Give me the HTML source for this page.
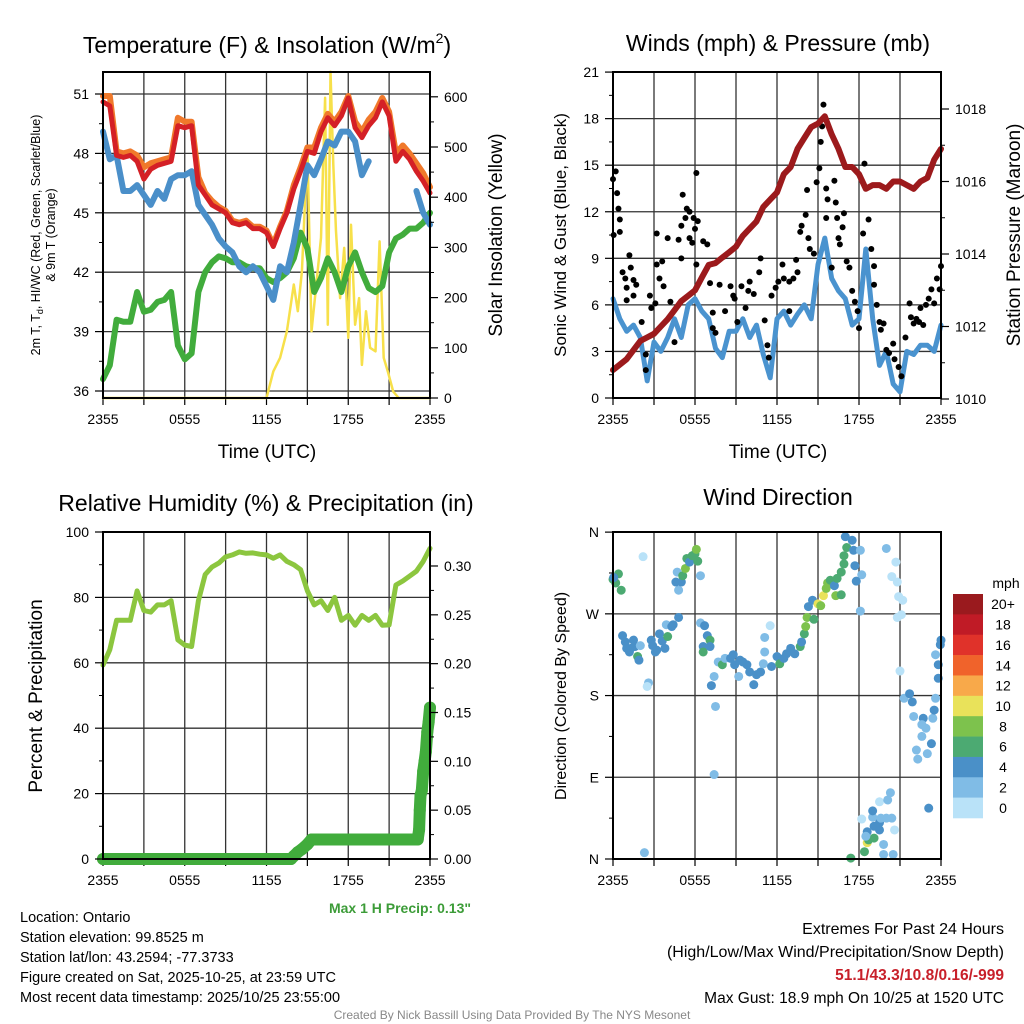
<!DOCTYPE html>
<html><head><meta charset="utf-8"><title>NYS Mesonet Ontario</title>
<style>
html,body{margin:0;padding:0;background:#fff;}
svg{display:block;font-family:"Liberation Sans",Arial,sans-serif;}
</style></head>
<body>
<svg id="chart" width="1024" height="1024" viewBox="0 0 1024 1024" xmlns="http://www.w3.org/2000/svg">
<rect x="0" y="0" width="1024" height="1024" fill="#fff"/>
<!-- titles -->
<text x="267" y="53" font-size="23" text-anchor="middle">Temperature (F) &amp; Insolation (W/m<tspan font-size="14" dy="-10">2</tspan><tspan dy="10">)</tspan></text>
<text x="778" y="51" font-size="23" text-anchor="middle">Winds (mph) &amp; Pressure (mb)</text>
<text x="266" y="511" font-size="23" text-anchor="middle">Relative Humidity (%) &amp; Precipitation (in)</text>
<text x="778" y="505" font-size="23" text-anchor="middle">Wind Direction</text>
<!-- axis titles -->
<text transform="translate(40,235) rotate(-90)" font-size="12.5" text-anchor="middle">2m T, T<tspan font-size="9" dy="3">d</tspan><tspan dy="-3">, HI/WC (Red, Green, Scarlet/Blue)</tspan></text>
<text transform="translate(55,235) rotate(-90)" font-size="12.5" text-anchor="middle">&amp; 9m T (Orange)</text>
<text transform="translate(502,235) rotate(-90)" font-size="19" text-anchor="middle">Solar Insolation (Yellow)</text>
<text x="267" y="458" font-size="19" text-anchor="middle">Time (UTC)</text>
<text transform="translate(566,235) rotate(-90)" font-size="17" text-anchor="middle">Sonic Wind &amp; Gust (Blue, Black)</text>
<text transform="translate(1020,235) rotate(-90)" font-size="19" text-anchor="middle">Station Pressure (Maroon)</text>
<text x="778" y="458" font-size="19" text-anchor="middle">Time (UTC)</text>
<text transform="translate(42,696) rotate(-90)" font-size="19" text-anchor="middle">Percent &amp; Precipitation</text>
<text transform="translate(566,696) rotate(-90)" font-size="16" text-anchor="middle">Direction (Colored By Speed)</text>
<text x="471" y="913" font-size="14" font-weight="bold" fill="#3c9c38" text-anchor="end">Max 1 H Precip: 0.13"</text>
<!-- info text -->
<g font-size="14.5" fill="#000">
<text x="20" y="922">Location: Ontario</text>
<text x="20" y="942">Station elevation: 99.8525 m</text>
<text x="20" y="962">Station lat/lon: 43.2594; -77.3733</text>
<text x="20" y="982">Figure created on Sat, 2025-10-25, at 23:59 UTC</text>
<text x="20" y="1002">Most recent data timestamp: 2025/10/25 23:55:00</text>
</g>
<g text-anchor="end" fill="#000">
<text x="1004" y="934" font-size="16">Extremes For Past 24 Hours</text>
<text x="1004" y="957" font-size="16">(High/Low/Max Wind/Precipitation/Snow Depth)</text>
<text x="1004" y="980" font-size="15.5" font-weight="bold" fill="#c8202a">51.1/43.3/10.8/0.16/-999</text>
<text x="1004" y="1003" font-size="15.5">Max Gust: 18.9 mph On 10/25 at 1520 UTC</text>
</g>
<text x="512" y="1019" font-size="12" fill="#888" text-anchor="middle">Created By Nick Bassill Using Data Provided By The NYS Mesonet</text>
<!-- colorbar label -->
<text x="1006" y="588" font-size="14" text-anchor="middle">mph</text>
</svg>
<script>
// ---------- data ----------
const halfHours = [0,0.5,1,1.5,2,2.5,3,3.5,4,4.5,5,5.5,6,6.5,7,7.5,8,8.5,9,9.5,10,10.5,11,11.5,12,12.5,13,13.5,14,14.5,15,15.5,16,16.5,17,17.5,18,18.5,19,19.5,20,20.5,21,21.5,22,22.5,23,23.5,24];
const tempRed = [50.6,50.4,47.9,47.8,47.9,47.6,46.7,47.2,47.4,47.5,47.6,49.4,49.3,49.4,46.4,45.9,45.4,45.2,45.0,44.5,44.4,44.5,44.2,44.2,44.0,43.3,44.2,45.0,46.2,47.1,48.1,48.0,49.1,49.8,49.4,49.9,50.8,49.3,48.8,49.4,49.8,50.6,49.9,47.6,48.1,47.7,47.1,46.6,46.0];
const temp9m = [50.9,50.9,48.1,48.0,48.1,47.9,47.3,47.5,47.6,47.7,47.8,49.8,49.6,49.6,46.8,46.0,45.6,45.3,45.1,44.6,44.5,44.6,44.3,44.3,44.1,43.4,44.3,45.1,46.4,47.3,48.3,48.3,49.3,50.0,49.6,50.1,50.9,49.6,49.1,49.7,50.1,50.8,50.1,48.0,48.4,48.0,47.5,47.0,46.3];
const windChill = [49.1,47.7,47.9,46.1,46.1,46.4,45.9,45.4,46.1,45.7,46.7,46.9,46.9,47.1,45.4,44.9,44.4,43.7,43.3,43.0,42.3,42.0,42.3,42.0,41.3,40.6,42.3,42.0,43.5,45.4,47.4,46.9,47.7,48.6,48.4,49.1,49.1,48.6,46.9,47.6,null,null,null,null,null,null,46.1,45.0,44.4];
const dewPoint = [36.6,37.3,39.6,39.5,39.5,41.0,40.0,40.1,40.5,40.6,41.0,38.3,37.6,37.9,41.0,42.0,42.5,42.8,42.7,42.5,42.5,42.3,42.2,42.2,41.7,41.5,41.7,42.0,42.7,44.0,43.2,41.0,41.7,42.7,42.0,41.0,42.3,43.0,42.0,41.2,41.0,41.3,43.0,43.7,43.9,44.2,44.2,44.5,45.0];
const solarHours = [0,12,12.5,13,13.5,14,14.3,14.6,15,15.3,15.6,16,16.3,16.5,16.7,16.9,17.1,17.4,17.7,18,18.2,18.5,18.8,19,19.3,19.6,20,20.3,20.6,20.9,21.3,21.7,24];
const solarVals = [0,0,53,80,133,226,173,252,498,133,212,319,598,146,650,465,332,199,299,120,345,146,199,66,173,100,93,312,80,53,13,0,0];
const pressure = [1010.8,1010.95,1011.1,1011.35,1011.6,1011.7,1011.8,1012.0,1012.2,1012.45,1012.7,1012.85,1013.0,1013.35,1013.7,1013.75,1013.9,1014.05,1014.2,1014.5,1014.7,1014.9,1015.3,1015.5,1015.7,1016.2,1016.4,1016.9,1017.2,1017.5,1017.6,1017.8,1017.3,1016.9,1016.4,1016.4,1016.2,1015.8,1015.9,1015.9,1015.8,1016.0,1016.0,1015.9,1015.8,1016.0,1016.1,1016.6,1016.9];
const windSpeed = [6.4,5.1,4.3,4.7,3.9,1.1,3.6,3.0,3.9,5.1,3.9,6.0,6.4,5.6,5.1,3.2,2.6,4.3,4.3,5.1,3.9,4.7,2.8,1.3,5.1,5.6,4.7,5.4,6.0,5.1,8.6,10.3,7.7,6.9,6.4,4.7,5.1,9.6,5.1,2.1,3.0,0.9,0.4,3.0,2.8,3.4,3.4,3.0,4.7];
const gustHours = [0,0.2,0.3,0.4,0.5,0.5,0.05,0.7,0.9,1.0,1.2,1.3,1.5,1.7,1.0,1.5,2.1,2.4,2.4,2.7,2.8,3.1,3.2,3.2,3.4,3.6,3.7,4.0,4.2,4.5,4.8,5.0,5.0,5.1,5.3,5.4,5.6,5.6,5.8,5.9,6.0,6.1,6.1,6.2,6.6,6.9,7.1,7.3,7.3,7.5,7.8,8.1,8.2,8.6,8.8,8.9,9.1,9.4,9.7,9.9,10.0,10.3,10.7,10.8,11.1,11.3,11.4,11.6,11.9,12.1,12.4,12.5,12.9,12.9,13.2,13.4,13.5,13.7,13.8,14.1,14.2,14.3,14.4,14.7,14.9,15.1,15.2,15.3,15.4,15.6,15.7,15.6,16.0,16.2,16.3,16.4,16.5,16.6,16.8,16.9,17.1,17.3,17.5,17.7,17.9,18.0,18.3,18.4,18.7,18.9,19.1,19.1,19.3,19.5,19.6,19.8,20.0,20.2,20.5,20.6,20.9,21.1,21.4,21.7,21.8,22.0,22.2,22.4,22.5,22.7,22.9,23.1,23.3,23.5,23.7,23.9,24.0];
const gustVals = [14.1,14.6,13.2,12.2,11.5,10.7,10.5,8.1,7.7,7.1,9.2,8.4,7.6,7.3,6.3,6.6,4.9,2.8,1.8,6.6,5.8,6.1,8.6,10.6,7.7,8.8,7.2,10.3,6.2,3.6,10.2,9.0,11.1,13.1,11.6,12.2,12.0,10.3,10.0,11.6,10.9,8.6,14.5,11.4,10.1,9.9,7.4,5.5,4.5,4.2,7.3,9.1,5.6,7.2,6.6,6.4,4.9,7.2,5.8,6.9,7.5,6.7,8.1,9.0,5.0,3.4,2.6,6.6,7.1,7.5,8.6,7.7,7.5,5.6,7.7,8.9,8.1,10.7,11.1,11.8,13.4,10.3,9.6,9.3,13.9,14.8,16.5,17.5,18.9,13.5,12.8,11.6,8.4,14.0,12.6,11.6,10.3,9.9,11.0,11.9,8.8,8.4,6.9,6.2,5.6,4.5,10.6,15.1,11.5,9.6,8.5,7.3,6.0,4.9,4.4,4.8,3.1,2.9,3.5,2.5,2.0,1.4,3.9,6.1,5.2,4.8,5.1,4.9,5.8,4.7,6.0,6.4,7.0,6.1,7.7,7.0,8.5];
const rhVals = [59.3,64,73,73,73,82,76,75.5,77.7,77.7,79,67,65.4,65,79,87,89.3,90.5,92.4,93,93.9,93.5,93.6,93.2,93,92,93,91,90,88.5,82,77.7,79,76,80,73,74.5,71.5,74.5,73,74.5,71.5,71.6,83.8,85,86.5,88,91,95];
const precipHours = [0,13.8,14.0,14.3,14.6,15.0,15.3,15.6,23.1,23.2,23.25,23.3,23.4,23.5,23.6,23.7,23.8,23.9,24];
const precipVals = [0,0,0.003,0.007,0.01,0.015,0.02,0.02,0.02,0.03,0.05,0.065,0.07,0.09,0.10,0.11,0.13,0.14,0.155];
const dirHours = [0,0.4,0.2,0.6,0.05,2.2,0.7,0.9,1.0,1.2,1.5,1.6,1.8,1.9,1.3,2.0,2.6,2.5,2.3,2.8,2.9,3.1,3.2,3.4,3.6,3.8,4.0,3.9,4.3,4.4,4.8,4.7,4.8,4.6,5.0,5.1,5.3,5.4,5.6,5.8,6.0,6.1,6.2,6.4,6.4,6.7,6.9,7.1,6.6,6.6,7.1,7.4,7.2,7.5,7.4,7.7,8.0,8.2,8.6,8.8,8.9,9.2,9.3,9.5,9.8,10.0,10.3,10.5,10.8,11.0,11.1,11.1,11.5,11.6,12.0,12.2,12.5,12.7,13.0,13.3,13.7,13.8,14.0,14.1,14.2,14.7,14.3,14.6,15.0,15.2,15.4,15.6,15.7,15.9,16.3,16.7,16.2,16.4,16.7,16.9,16.9,17.1,17.0,17.5,17.6,18.1,17.7,18.2,17.8,18.1,20.0,20.7,20.4,20.8,20.9,21.2,21.1,20.8,21.0,21.3,21.7,21.9,22.0,22.7,22.6,22.9,22.6,23.3,22.2,23.0,22.3,23.4,23.5,23.6,23.8,23.8,23.6,24.0,23.95,23.1,17.4,18.4,18.6,18.7,19.1,18.6,19.1,19.5,19.8,19.8,20.5,19.0,19.0,19.5,19.6,20.0,20.4,20.6,19.5,20.1,20.3,18.2,18.5];
const dirDeg = [308,314,304,296,310,333,246,239,232,228,241,234,223,219,232,235,194,190,7,241,235,228,230,248,240,232,245,258,256,258,266,316,296,305,305,312,320,331,327,334,336,341,328,312,260,257,246,241,234,228,234,201,191,168,93,217,214,221,221,225,214,201,219,217,214,206,192,203,206,215,228,244,257,212,223,215,221,226,232,226,234,239,248,256,266,264,278,285,281,279,290,298,304,307,290,291,301,309,316,325,334,343,355,351,340,340,323,313,306,273,342,327,311,305,289,285,269,266,207,177,182,173,157,155,148,144,135,127,120,116,110,155,164,177,199,214,225,241,236,56,1,8,18,21,23,30,36,32,16,5,5,46,53,40,45,45,45,32,63,65,73,44,25];
const dirSpeed = [7,7,7,7,5,1,5,5,5,5,5,5,7,5,5,3,3,1,3,5,5,5,5,5,5,5,7,3,5,5,5,3,3,5,5,7,9,7,5,7,7,9,7,3,3,5,5,7,5,7,5,3,5,3,3,3,7,3,5,5,5,3,5,5,5,5,5,5,5,3,3,3,1,5,5,7,5,5,5,5,7,5,7,9,9,7,5,5,11,9,11,9,9,7,9,7,5,7,7,7,7,7,5,5,5,3,5,3,5,3,3,1,1,1,1,1,1,1,1,3,5,5,3,5,3,3,3,5,3,3,3,3,5,3,5,5,3,5,5,5,7,7,11,7,7,5,5,5,3,3,3,3,5,5,3,3,3,1,1,3,3,1,3,5];
const speedBinLabels = ['0','2','4','6','8','10','12','14','16','18','20+'];
const speedBinColors = ['#b9e2f8','#80bce6','#4a90c8','#4caa72','#7dc24d','#e9e25a','#f8a94a','#f0632b','#e0322a','#c01b26','#9a1a1e'];
const timeTickLabels = ['2355','0555','1155','1755','2355'];
const tempTicks = [36,39,42,45,48,51];
const solarTicks = [0,100,200,300,400,500,600];
const windTicks = [0,3,6,9,12,15,18,21];
const pressureTicks = [1010,1012,1014,1016,1018];
const rhTicks = [0,20,40,60,80,100];
const precipTicks = [0,0.05,0.10,0.15,0.20,0.25,0.30];
const dirTicks = [0,90,180,270,360];
const dirTickLabels = ['N','E','S','W','N'];

// ---------- helpers ----------
const NS = 'http://www.w3.org/2000/svg';
const svg = document.getElementById('chart');
function el(tag, attrs, parent) {
  const e = document.createElementNS(NS, tag);
  for (const k in attrs) e.setAttribute(k, attrs[k]);
  (parent || svg).appendChild(e);
  return e;
}
const P1 = {x0:103, x1:430, y0:72, y1:398};
const P2 = {x0:613, x1:941, y0:72, y1:398};
const P3 = {x0:103, x1:430, y0:532, y1:859};
const P4 = {x0:613, x1:941, y0:532, y1:859};
function xs(p, h) { return p.x0 + h / 24 * (p.x1 - p.x0); }
const yT = v => 391 - (v - 36) * 19.8;
const yS = v => 398 - v * 0.502;
const yW = v => 398 - v * 15.52;
const yP = v => 399 - (v - 1010) * 36.25;
const yR = v => 859 - v * 3.27;
const yQ = v => 859 - v * 976.7;
const yD = d => 859 - d * 0.908;
function spdColor(s) { return speedBinColors[Math.min(10, Math.max(0, Math.floor(s / 2)))]; }

function drawFrame(p, name, gridYs) {
  const g = el('g', {});
  
  
  for (let i = 1; i < 8; i++) {
    const x = xs(p, i * 3);
    el('line', {x1:x, x2:x, y1:p.y0, y2:p.y1, stroke:'#333', 'stroke-width':1.3}, g);
  }
  gridYs.forEach(y => el('line', {x1:p.x0, x2:p.x1, y1:y, y2:y, stroke:'#333', 'stroke-width':1.3}, g));
  // x ticks & labels
  const xt = el('g', {});
  
  
  for (let i = 0; i <= 8; i++) {
    const x = xs(p, i * 3);
    el('line', {x1:x, x2:x, y1:p.y1, y2:p.y1 + 7, stroke:'#000', 'stroke-width':1.2}, xt);
  }
  timeTickLabels.forEach((t, i) => {
    const tx = el('text', {x:xs(p, i * 6), y:p.y1 + 26, 'font-size':14, 'text-anchor':'middle'}, xt);
    tx.textContent = t;
  });
}
function drawBorder(p, name) {
  const r = el('rect', {x:p.x0, y:p.y0, width:p.x1 - p.x0, height:p.y1 - p.y0, fill:'none', stroke:'#000', 'stroke-width':2});
  
  
}
function yAxis(p, name, ticks, scale, labels, side, minorStep) {
  const g = el('g', {});
  
  
  const xe = side === 'left' ? p.x0 : p.x1;
  const d = side === 'left' ? -1 : 1;
  ticks.forEach((t, i) => {
    const y = scale(t);
    el('line', {x1:xe, x2:xe + d * 8, y1:y, y2:y, stroke:'#000', 'stroke-width':1.2}, g);
    const tx = el('text', {x:xe + d * 14, y:y + 5, 'font-size':14, 'text-anchor':side === 'left' ? 'end' : 'start'}, g);
    tx.textContent = labels[i];
    if (minorStep && i < ticks.length - 1) {
      const ym = scale(t + minorStep);
      el('line', {x1:xe, x2:xe + d * 4, y1:ym, y2:ym, stroke:'#000', 'stroke-width':1}, g);
    }
  });
}
function line(p, xsArr, ys, scale, color, width, name) {
  let pts = [];
  const segs = [];
  for (let i = 0; i < xsArr.length; i++) {
    if (ys[i] === null) { if (pts.length) segs.push(pts); pts = []; continue; }
    pts.push(xs(p, xsArr[i]).toFixed(1) + ',' + scale(ys[i]).toFixed(1));
  }
  if (pts.length) segs.push(pts);
  segs.forEach(s => {
    const pl = el('polyline', {points:s.join(' '), fill:'none', stroke:color, 'stroke-width':width, 'stroke-linejoin':'round', 'stroke-linecap':'round'});
    
    
  });
}

// ---------- panel 1 ----------
drawFrame(P1, 'temperature', tempTicks.map(yT));
line(P1, solarHours, solarVals, yS, '#f7e04a', 2.5, 'solar-insolation-line');
line(P1, halfHours, dewPoint, yT, '#41ac3c', 6, 'dewpoint-line');
line(P1, halfHours, windChill, yT, '#4a8fc9', 6, 'wind-chill-line');
line(P1, halfHours, temp9m, yT, '#f0792b', 6, 'temp-9m-line');
line(P1, halfHours, tempRed, yT, '#d42026', 5, 'temp-2m-line');
drawBorder(P1, 'temperature');
yAxis(P1, 'temperature-y-axis', tempTicks, yT, tempTicks.map(String), 'left', 1.5);
yAxis(P1, 'solar-y-axis', solarTicks, yS, solarTicks.map(String), 'right', 50);

// ---------- panel 2 ----------
drawFrame(P2, 'winds', windTicks.map(yW));
line(P2, halfHours, windSpeed, yW, '#4a93cf', 5, 'sonic-wind-line');
for (let i = 0; i < gustHours.length; i++) {
  const c = el('circle', {cx:xs(P2, gustHours[i]), cy:yW(gustVals[i]), r:3, fill:'#000'});
  
  
}
line(P2, halfHours, pressure, yP, '#9c1a1c', 6, 'pressure-line');
drawBorder(P2, 'winds');
yAxis(P2, 'wind-y-axis', windTicks, yW, windTicks.map(String), 'left', 1.5);
yAxis(P2, 'pressure-y-axis', pressureTicks, yP, pressureTicks.map(String), 'right', 1);

// ---------- panel 3 ----------
drawFrame(P3, 'humidity', rhTicks.map(yR));
line(P3, halfHours, rhVals, yR, '#8cc63f', 5, 'relative-humidity-line');
line(P3, precipHours, precipVals, yQ, '#41ac3c', 12, 'precipitation-line');
for (let i = 0; i < precipHours.length; i++) {
  const c = el('circle', {cx:xs(P3, precipHours[i]), cy:yQ(precipVals[i]), r:6, fill:'#41ac3c'});
  
  
}
drawBorder(P3, 'humidity');
yAxis(P3, 'humidity-y-axis', rhTicks, yR, rhTicks.map(String), 'left', 10);
yAxis(P3, 'precip-y-axis', precipTicks, yQ, precipTicks.map(v => v.toFixed(2)), 'right', 0.025);

// ---------- panel 4 ----------
drawFrame(P4, 'direction', dirTicks.map(yD));
for (let i = 0; i < dirHours.length; i++) {
  const c = el('circle', {cx:xs(P4, dirHours[i]), cy:yD(dirDeg[i]), r:4.5, fill:spdColor(dirSpeed[i])});
  
  
}
drawBorder(P4, 'direction');
yAxis(P4, 'direction-y-axis', dirTicks, yD, dirTickLabels, 'left', 45);

// colorbar
const cb = el('g', {});


const boxH = (818 - 594) / speedBinColors.length;
for (let i = 0; i < speedBinColors.length; i++) {
  const k = speedBinColors.length - 1 - i;
  const y = 594 + i * boxH;
  const r = el('rect', {x:953, y:y, width:30, height:boxH + 0.3, fill:speedBinColors[k]}, cb);
  
  
  const t = el('text', {x:1003, y:y + boxH / 2 + 5, 'font-size':14, 'text-anchor':'middle'}, cb);
  
  
  t.textContent = speedBinLabels[k];
}
</script>
</body></html>
